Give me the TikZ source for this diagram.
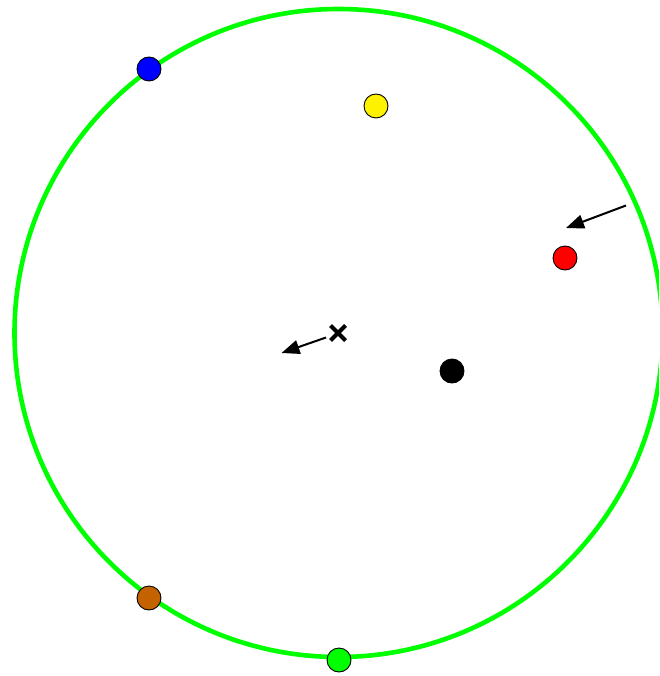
\documentclass[tikz,border=0pt]{standalone}
\usetikzlibrary{arrows.meta}
\definecolor{ring}{RGB}{0,255,0}
\definecolor{brownpt}{RGB}{196,98,0}
\tikzset{
  pt/.style={circle,draw=black,line width=0.9pt,minimum size=24pt,inner sep=0pt},
  mover/.style={line width=2pt,-{Triangle[length=18pt,width=14pt]}},
}
\begin{document}
\begin{tikzpicture}[x=1pt,y=-1pt]
\useasboundingbox (0,0) rectangle (659,676);
\begin{scope}
\clip (0,0) rectangle (659,676);
\draw[ring,line width=4.6pt] (338.5,333) circle (324);
\end{scope}
\node[pt,fill=blue] (blue) at (149,69) {};
\node[pt,fill=yellow] (yellow) at (376,106) {};
\node[pt,fill=red] (red) at (565,258) {};
\node[pt,fill=black] (black) at (452,371) {};
\node[pt,fill=brownpt] (brown) at (149,598) {};
\node[pt,fill=ring] (green) at (339,660) {};
\coordinate (c) at (338,333);
\draw[line width=4pt] (330.5,325.5) -- (345.5,340.5) (330.5,340.5) -- (345.5,325.5);
\coordinate (a1s) at (326,337.5);
\coordinate (a1e) at (281.5,353);
\draw[mover] (a1s) -- (a1e);
\coordinate (a2s) at (626,205.5);
\coordinate (a2e) at (566,228);
\draw[mover] (a2s) -- (a2e);
\end{tikzpicture}
\end{document}
